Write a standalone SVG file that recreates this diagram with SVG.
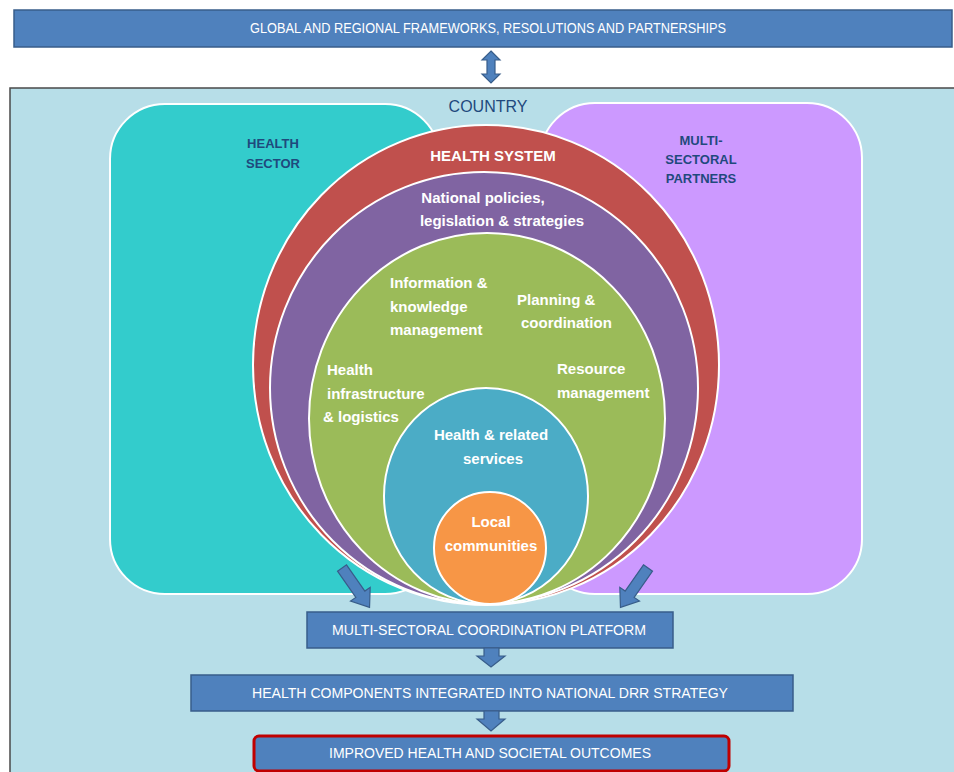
<svg xmlns="http://www.w3.org/2000/svg" width="954" height="772" viewBox="0 0 954 772">
<defs>
<style>
.bar{fill:#4F81BD;stroke:#385D8A;stroke-width:1.5}
.bt{font-family:"Liberation Sans",Arial,sans-serif;font-size:15px;fill:#FFFFFF;text-anchor:middle}
.ring{stroke:#FFFFFF;stroke-width:2}
.ct{font-family:"Liberation Sans",Arial,sans-serif;font-size:15px;font-weight:bold;fill:#FFFFFF}
.lbl{font-family:"Liberation Sans",Arial,sans-serif;font-size:13px;font-weight:bold;fill:#1F497D;text-anchor:middle}
.arr{fill:#4F81BD;stroke:#385D8A;stroke-width:1.2}
</style>
</defs>
<rect x="0" y="0" width="954" height="772" fill="#FFFFFF"/>

<g id="global">
<rect class="bar" x="14" y="10" width="938" height="37"/>
<text class="bt" x="488" y="33" font-size="13" textLength="476" lengthAdjust="spacingAndGlyphs">GLOBAL AND REGIONAL FRAMEWORKS,  RESOLUTIONS AND PARTNERSHIPS</text>
</g>

<g id="country">
<rect x="10" y="88" width="952" height="692" fill="#B7DEE8" stroke="#4A4A4A" stroke-width="1.5"/>
<text x="488" y="112" font-family="Liberation Sans,Arial,sans-serif" font-size="16" fill="#1F497D" text-anchor="middle">COUNTRY</text>
</g>

<g id="health-sector">
<rect x="110" y="104" width="330" height="490" rx="55" ry="55" fill="#33CCCC" stroke="#FFFFFF" stroke-width="2"/>
<text class="lbl" x="273" y="148">HEALTH</text>
<text class="lbl" x="273" y="168">SECTOR</text>
</g>

<g id="multi-sectoral-partners">
<rect x="540" y="103" width="322" height="491" rx="55" ry="55" fill="#CC99FF" stroke="#FFFFFF" stroke-width="2"/>
<text class="lbl" x="701" y="145">MULTI-</text>
<text class="lbl" x="701" y="164">SECTORAL</text>
<text class="lbl" x="701" y="183">PARTNERS</text>
</g>

<g id="health-system">
<ellipse class="ring" cx="486" cy="365" rx="233" ry="240" fill="#C0504D"/>
<text class="ct" x="493" y="161" font-size="12" text-anchor="middle">HEALTH SYSTEM</text>
</g>

<g id="national-policies">
<ellipse class="ring" cx="484" cy="388" rx="214" ry="216" fill="#8064A2"/>
<text class="ct" x="483" y="203" text-anchor="middle">National policies,</text>
<text class="ct" x="502" y="226" text-anchor="middle">legislation  &amp; strategies</text>
</g>

<g id="health-system-components">
<ellipse class="ring" cx="487" cy="418.5" rx="178" ry="185.5" fill="#9BBB59"/>
<text class="ct" x="390" y="288">Information &amp;</text>
<text class="ct" x="390" y="312">knowledge</text>
<text class="ct" x="390" y="335">management</text>
<text class="ct" x="517" y="305">Planning &amp;</text>
<text class="ct" x="521" y="328">coordination</text>
<text class="ct" x="327" y="375">Health</text>
<text class="ct" x="327" y="399">infrastructure</text>
<text class="ct" x="323" y="422">&amp; logistics</text>
<text class="ct" x="557" y="374">Resource</text>
<text class="ct" x="557" y="398">management</text>
</g>

<g id="health-services">
<ellipse class="ring" cx="486" cy="496" rx="102" ry="108" fill="#4BACC6"/>
<text class="ct" x="491" y="440" text-anchor="middle">Health &amp; related</text>
<text class="ct" x="493" y="464" text-anchor="middle">services</text>
</g>

<g id="local-communities">
<ellipse class="ring" cx="490" cy="548" rx="56" ry="56" fill="#F79646"/>
<text class="ct" x="491" y="527" text-anchor="middle">Local</text>
<text class="ct" x="491" y="551" text-anchor="middle" font-size="14.5">communities</text>
</g>

<g id="coordination-platform">
<rect class="bar" x="307" y="612" width="366" height="36"/>
<text class="bt" x="489" y="635" textLength="314" lengthAdjust="spacingAndGlyphs">MULTI-SECTORAL  COORDINATION  PLATFORM</text>
</g>

<g id="drr-strategy">
<rect class="bar" x="191" y="675" width="602" height="36"/>
<text class="bt" x="490" y="698" textLength="476" lengthAdjust="spacingAndGlyphs">HEALTH COMPONENTS  INTEGRATED INTO NATIONAL  DRR STRATEGY</text>
</g>

<g id="outcomes">
<rect x="254" y="736" width="475" height="35" rx="5" ry="5" fill="#4F81BD" stroke="#C00000" stroke-width="3"/>
<text class="bt" x="490" y="758" textLength="322" lengthAdjust="spacingAndGlyphs">IMPROVED  HEALTH AND SOCIETAL  OUTCOMES</text>
</g>

<g id="connectors">
<polygon class="arr" points="491,51 500,60 495,60 495,74 500,74 491,83 482,74 487,74 487,60 482,60"/>
<polygon class="arr" transform="translate(342,568) rotate(-35)" points="-5.5,0 5.5,0 5.5,32 12,32 0,48 -12,32 -5.5,32"/>
<polygon class="arr" transform="translate(648,568) rotate(35)" points="-5.5,0 5.5,0 5.5,32 12,32 0,48 -12,32 -5.5,32"/>
<polygon class="arr" points="484,648 499,648 499,656 505,656 491,667 477,656 484,656"/>
<polygon class="arr" points="484,711 499,711 499,719 505,719 491,731 477,719 484,719"/>
</g>
</svg>
